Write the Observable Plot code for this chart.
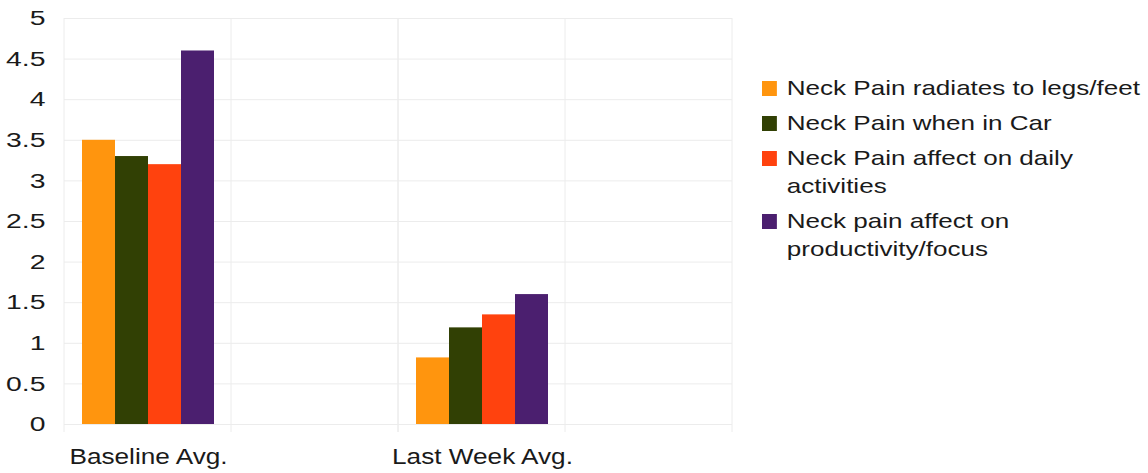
<!DOCTYPE html>
<html><head><meta charset="utf-8">
<script src="https://cdn.jsdelivr.net/npm/d3@7"></script>
<script src="https://cdn.jsdelivr.net/npm/@observablehq/plot@0.6"></script>
<style>
body{margin:0;background:#fff;font-family:"Liberation Sans",Arial,sans-serif;color:#1a1a1a;}
#wrap{position:relative;width:1148px;height:473px;}
#legend{position:absolute;left:762px;top:74px;font-size:21px;line-height:28px;transform:scaleX(1.24);transform-origin:0 0;}
.item{display:flex;align-items:flex-start;margin-bottom:7px;}
.sw{width:12px;height:15px;flex:none;margin-top:7px;margin-right:8px;}
.lbl{width:320px;}
</style></head><body><div id="wrap"></div>
<script>
const categories = ["Baseline Avg.", "Last Week Avg."];
const series = [
  "Neck Pain radiates to legs/feet",
  "Neck Pain when in Car",
  "Neck Pain affect on daily activities",
  "Neck pain affect on productivity/focus"
];
const legendLines = [
  ["Neck Pain radiates to legs/feet"],
  ["Neck Pain when in Car"],
  ["Neck Pain affect on daily", "activities"],
  ["Neck pain affect on", "productivity/focus"]
];
const colors = ["#ff950e", "#314004", "#ff420e", "#4b1f6f"];
const baselineValues = [3.5, 3.3, 3.2, 4.6];
const lastWeekValues = [0.82, 1.19, 1.35, 1.6];
const yTicks = [0, 0.5, 1, 1.5, 2, 2.5, 3, 3.5, 4, 4.5, 5];

const data = series.flatMap((s, i) => [
  {category: categories[0], series: s, value: baselineValues[i]},
  {category: categories[1], series: s, value: lastWeekValues[i]}
]);

const gridColor = "#ececec";

function vGrid(index, scales, values, dims) {
  const {width, height, marginLeft, marginRight, marginTop, marginBottom} = dims;
  const g = d3.create("svg:g");
  const x0 = marginLeft, x1 = width - marginRight;
  for (const x of [x0, (x0 + x1) / 2, x1]) {
    g.append("line").attr("x1", x).attr("x2", x)
      .attr("y1", marginTop).attr("y2", height - marginBottom + 8)
      .attr("stroke", gridColor).attr("stroke-width", 1);
  }
  return g.node();
}

const chart = Plot.plot({
  width: 1148,
  height: 473,
  marginLeft: 64,
  marginRight: 416,
  marginTop: 18,
  marginBottom: 49,
  style: {fontFamily: "'Liberation Sans', Arial, sans-serif", color: "#1a1a1a", background: "#fff"},
  fx: {domain: categories, padding: 0},
  x: {domain: series, range: [82, 214], padding: 0},
  y: {domain: [0, 5]},
  color: {domain: series, range: colors},
  marks: [
    Plot.gridY(yTicks, {stroke: gridColor, strokeOpacity: 1}),
    vGrid,
    Plot.barY(data, {fx: "category", x: "series", y: "value", fill: "series", inset: 0}),
    Plot.axisY(yTicks, {tickSize: 0, tickPadding: 19, fontSize: 21, tickFormat: d => String(d), label: null}),
    Plot.axisFx({anchor: "bottom", tickSize: 0, tickPadding: 24, dx: -83, fontSize: 22, label: null}),
    Plot.axisX({ticks: [], label: null})
  ]
});

function stretch(sel, s) {
  chart.querySelectorAll(sel).forEach(t => {
    const tr = t.getAttribute("transform");
    if (tr && tr.includes("translate")) {
      t.setAttribute("transform", tr + ` scale(${s},1)`);
    } else {
      const x = +t.getAttribute("x") || 0, y = +t.getAttribute("y") || 0;
      t.removeAttribute("x"); t.removeAttribute("y");
      t.setAttribute("transform", `translate(${x},${y}) scale(${s},1)`);
    }
  });
}
stretch('g[aria-label="y-axis tick label"] text', 1.35);
stretch('g[aria-label="fx-axis tick label"] text', 1.19);

document.getElementById("wrap").appendChild(chart);

const legend = document.createElement("div");
legend.id = "legend";
series.forEach((s, i) => {
  const it = document.createElement("div");
  it.className = "item";
  const sw = document.createElement("div");
  sw.className = "sw";
  sw.style.background = colors[i];
  const lb = document.createElement("div");
  lb.className = "lbl";
  lb.innerHTML = legendLines[i].join("<br>");
  it.appendChild(sw); it.appendChild(lb);
  legend.appendChild(it);
});
document.getElementById("wrap").appendChild(legend);
</script></body></html>
